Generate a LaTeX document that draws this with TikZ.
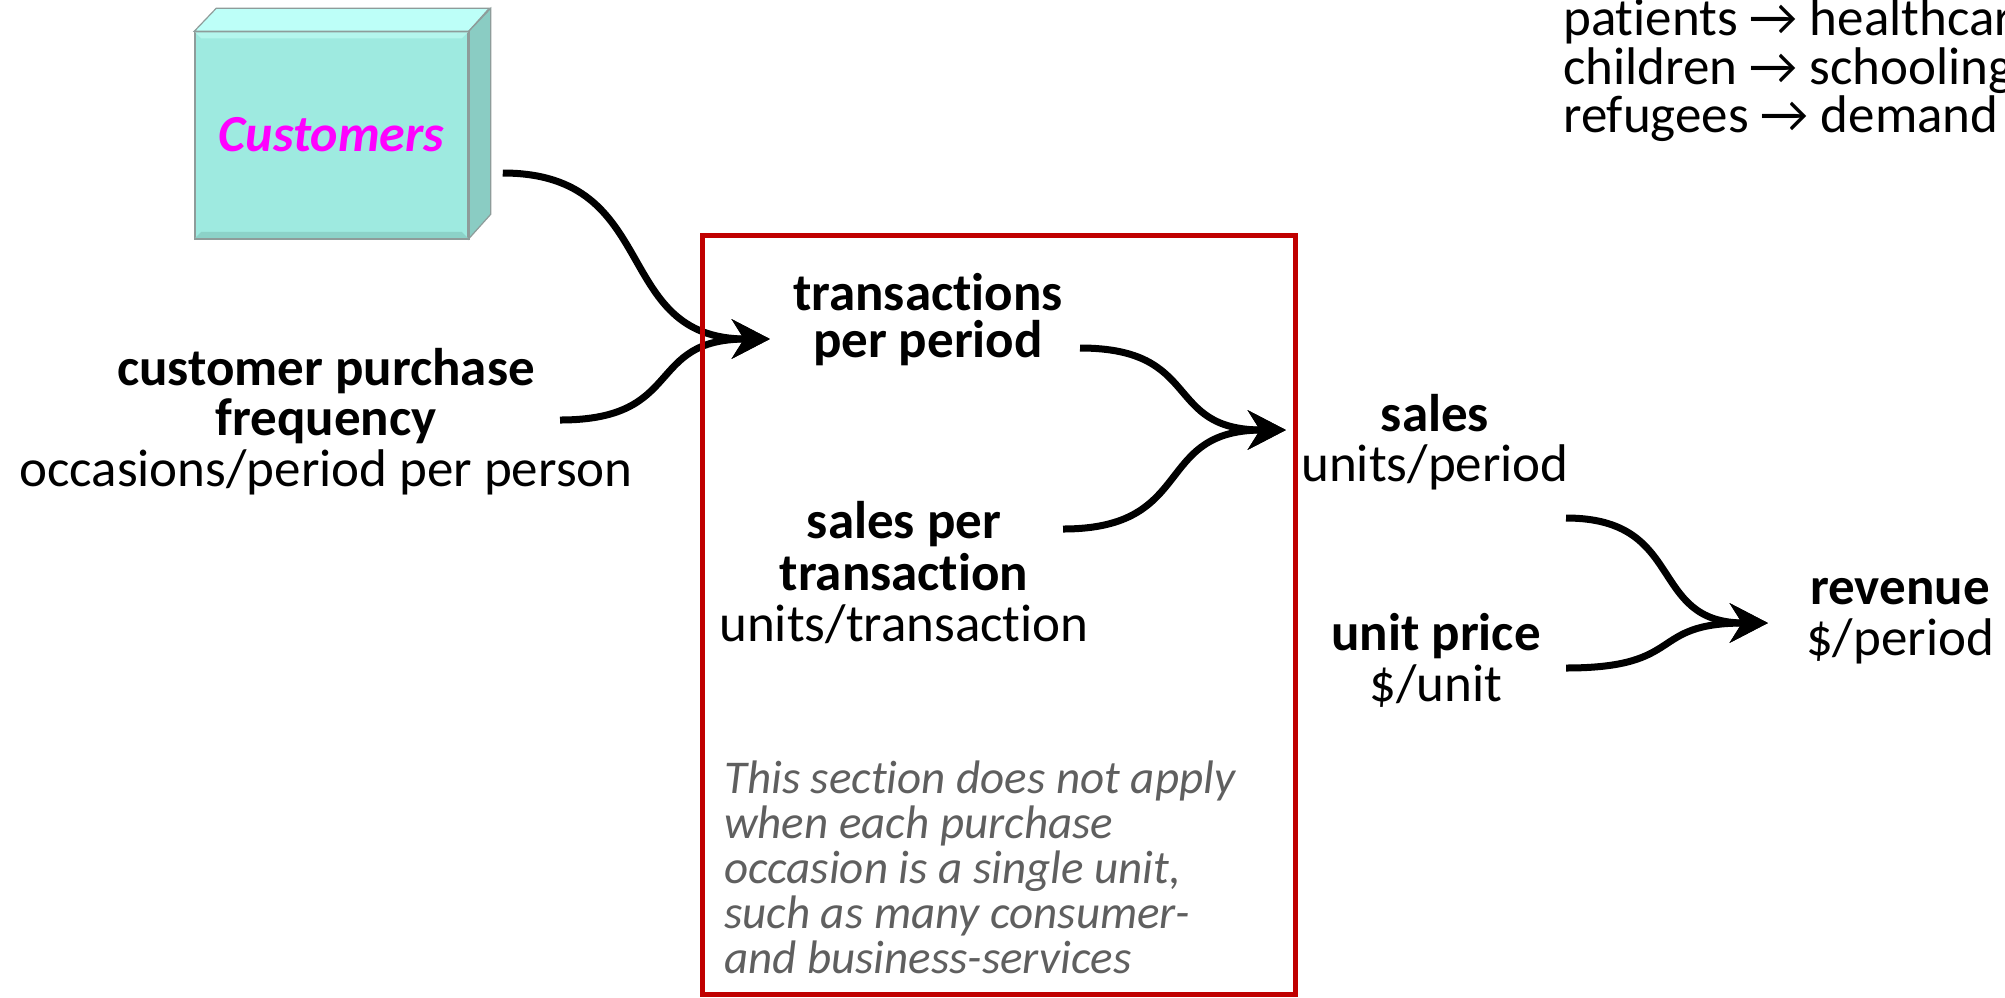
\documentclass[tikz,border=0pt]{standalone}
\usepackage{fontspec}
\setmainfont{Carlito}[Ligatures={NoCommon,NoContextual},RawFeature={-liga;-clig;-dlig;-calt}]
\usetikzlibrary{arrows.meta,calc}
\definecolor{boxfront}{HTML}{9EEAE0}
\definecolor{boxtop}{HTML}{BDFFF8}
\definecolor{boxside}{HTML}{8ACCC3}
\definecolor{boxedge}{HTML}{8E9C9A}
\definecolor{bevellight}{HTML}{B4F6ED}
\definecolor{beveldark}{HTML}{8CD2C8}
\definecolor{scopered}{HTML}{C00000}
\definecolor{notegrey}{HTML}{5F5F5F}
\definecolor{custmagenta}{HTML}{FF00FF}
\tikzset{
  lbl/.style={inner sep=0pt, anchor=base, font=\fontsize{53pt}{51pt}\selectfont},
  lblb/.style={inner sep=0pt, anchor=base, font=\fontsize{53pt}{51pt}\selectfont\bfseries},
  % S-shaped connector: one cubic, horizontal at both ends
  scurve/.style={to path={let \p1=(\tikztostart), \p2=(\tikztotarget) in
     .. controls ({\x1+0.6*(\x2-\x1)},\y1) and ({\x2-0.6*(\x2-\x1)},\y2)
     .. (\tikztotarget)}},
  flow/.style={line width=7pt, -{Stealth[length=38pt,width=39pt,inset=12pt]}, scurve},
}
\begin{document}
\begin{tikzpicture}[x=1pt,y=-1pt]
\useasboundingbox (0,0) rectangle (2005,997);
\clip (0,0) rectangle (2005,997);

% customer block
\node[draw=boxedge, line width=1.5pt, fill=boxfront, minimum width=273pt,
      minimum height=206pt, inner sep=0pt, text=custmagenta,
      font=\fontsize{52pt}{52pt}\selectfont\bfseries\itshape] (cust) at (331.5,135) {Customers};
\filldraw[fill=boxtop, draw=boxedge, line width=1.2pt]
  (cust.north west) -- ++(22,-23) -- ++(273,0) -- (cust.north east) -- cycle;
\filldraw[fill=boxside, draw=boxedge, line width=1.2pt]
  (cust.north east) -- ++(22,-23) -- ++(0,206) -- (cust.south east) -- cycle;
\fill[bevellight] ([shift={(1,1)}]cust.north west) -- ([shift={(-1,1)}]cust.north east)
  -- ([shift={(-7,7)}]cust.north east) -- ([shift={(7,7)}]cust.north west) -- cycle;
\fill[beveldark] ([shift={(1,-1)}]cust.south west) -- ([shift={(-1,-1)}]cust.south east)
  -- ([shift={(-7,-7)}]cust.south east) -- ([shift={(7,-7)}]cust.south west) -- cycle;
\draw[boxedge, line width=1.5pt] (cust.north west) rectangle (cust.south east);

% examples
\node[lbl, anchor=base west] (ex1) at (1563,35) {patients → healthcare};
\node[lbl, anchor=base west] (ex2) at (1563,84) {children → schooling};
\node[lbl, anchor=base west] (ex3) at (1563,132) {refugees → demand};

% customer purchase frequency
\node[lblb] (cpf1) at (326,385) {customer purchase};
\node[lblb] (cpf2) at (326,435) {frequency};
\node[lbl]  (cpf3) at (326,486) {occasions/period per person};

% transactions per period
\node[lblb] (tpp1) at (928,310) {transactions};
\node[lblb] (tpp2) at (928,357) {per period};

% sales per transaction
\node[lblb] (spt1) at (904,538) {sales per};
\node[lblb] (spt2) at (904,590) {transaction};
\node[lbl]  (spt3) at (904,641) {units/transaction};

% sales
\node[lblb] (sal1) at (1435,431) {sales};
\node[lbl]  (sal2) at (1435,481) {units/period};

% unit price
\node[lblb] (up1) at (1436,650) {unit price};
\node[lbl]  (up2) at (1436,701) {\$/unit};

% revenue
\node[lblb] (rev1) at (1900,604) {revenue};
\node[lbl]  (rev2) at (1900,655) {\$/period};

% connectors
\draw[flow] ([shift={(34,38)}]cust.east) to ([shift={(-158,29)}]tpp1.base);
\draw[flow] ([shift={(234,-15)}]cpf2.base) to ([shift={(-158,29)}]tpp1.base);
\draw[flow] ([shift={(152,-9)}]tpp2.base) to ([shift={(-149,-1)}]sal1.base);
\draw[flow] ([shift={(159,-9)}]spt1.base) to ([shift={(-149,-1)}]sal1.base);
\draw[flow] ([shift={(131,37)}]sal2.base) to ([shift={(-132,19)}]rev1.base);
\draw[flow] ([shift={(130,18)}]up1.base) to ([shift={(-132,19)}]rev1.base);

% section frame and its note (base anchor sits on the last line)
\draw[scopered, line width=5pt] (702,235) rectangle (1295,994);
\node[inner sep=0pt, anchor=base west, align=left, text=notegrey,
      font=\fontsize{47pt}{45pt}\selectfont\itshape] (note) at (724,973)
  {This section does not apply\\when each purchase\\occasion is a single unit,\\such as many consumer-\\and business-services};
\end{tikzpicture}
\end{document}
